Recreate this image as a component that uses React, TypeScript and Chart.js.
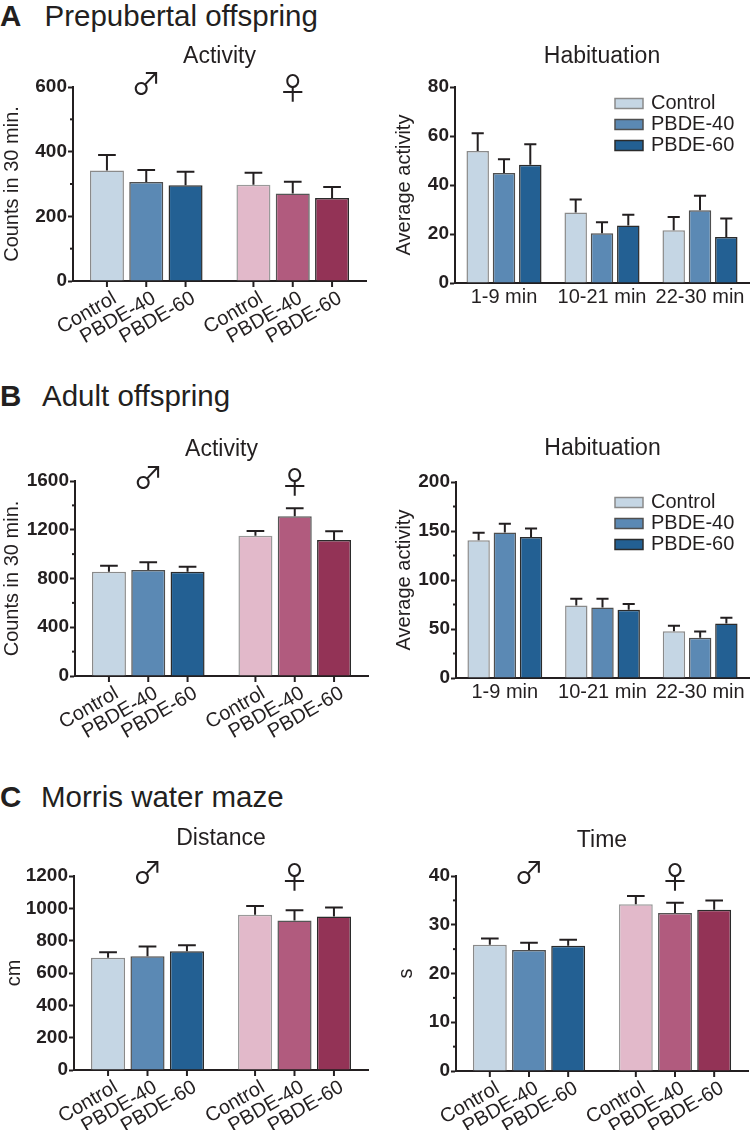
import React, { useEffect, useRef } from 'react';
import { Chart, registerables } from 'chart.js';

Chart.register(...registerables);

const FONT = '"Liberation Sans", Arial, Helvetica, sans-serif';
const SYMBOL_FONT = '"Noto Sans CJK JP", "DejaVu Sans", sans-serif';
const INK = '#231f20';

Chart.defaults.font.family = FONT;
Chart.defaults.color = INK;

// ---------- categories & labels ----------
const sexLabels = ['♂', '♀'];
const treatmentLabels = ['Control', 'PBDE-40', 'PBDE-60'];
const periodLabels = ['1-9 min', '10-21 min', '22-30 min'];

// ---------- A: prepubertal offspring ----------
const prepActivityControl = [342, 298];
const prepActivityPbde40 = [306, 271];
const prepActivityPbde60 = [296, 257];
const prepActivityControlSem = [48, 37];
const prepActivityPbde40Sem = [37, 36];
const prepActivityPbde60Sem = [42, 34];
const prepActivityTicks = [0, 200, 400, 600];

const prepHabControl = [53.9, 28.8, 21.5];
const prepHabPbde40 = [44.9, 20.3, 29.7];
const prepHabPbde60 = [48.3, 23.5, 18.8];
const prepHabControlSem = [7.2, 5.3, 5.4];
const prepHabPbde40Sem = [5.6, 4.5, 5.9];
const prepHabPbde60Sem = [8.3, 4.4, 7.5];
const prepHabTicks = [0, 20, 40, 60, 80];

// ---------- B: adult offspring ----------
const adultActivityControl = [856, 1151];
const adultActivityPbde40 = [870, 1310];
const adultActivityPbde60 = [856, 1116];
const adultActivityControlSem = [49, 39];
const adultActivityPbde40Sem = [63, 66];
const adultActivityPbde60Sem = [41, 71];
const adultActivityTicks = [0, 400, 800, 1200, 1600];

const adultHabControl = [140.6, 74, 47.8];
const adultHabPbde40 = [148.5, 72, 41];
const adultHabPbde60 = [144, 69.6, 55.6];
const adultHabControlSem = [7.5, 6.9, 5.4];
const adultHabPbde40Sem = [8.8, 8.9, 6.4];
const adultHabPbde60Sem = [8.6, 5.8, 5.8];
const adultHabTicks = [0, 50, 100, 150, 200];

// ---------- C: Morris water maze ----------
const mwmDistanceControl = [694, 961];
const mwmDistancePbde40 = [704, 924];
const mwmDistancePbde60 = [735, 949];
const mwmDistanceControlSem = [35, 54];
const mwmDistancePbde40Sem = [60, 64];
const mwmDistancePbde60Sem = [37, 56];
const mwmDistanceTicks = [0, 200, 400, 600, 800, 1000, 1200];

const mwmTimeControl = [25.9, 34.2];
const mwmTimePbde40 = [24.8, 32.4];
const mwmTimePbde60 = [25.7, 33.1];
const mwmTimeControlSem = [1.3, 1.7];
const mwmTimePbde40Sem = [1.5, 2.1];
const mwmTimePbde60Sem = [1.2, 1.9];
const mwmTimeTicks = [0, 10, 20, 30, 40];

// ---------- colours ----------
const maleFill = ['#c5d6e4', '#5b89b4', '#236093'];
const femaleFill = ['#e2b9ca', '#b15b7e', '#933356'];
const maleEdge = ['#8a8a8a', '#4f4f4f', '#2b2b2b'];
const femaleEdge = ['#9a9a9a', '#555555', '#2b2b2b'];

type Geom = {
  left: number; top: number; width: number; height: number;
  padRight: number; padTop: number; yWidth: number; xHeight: number;
  yTitlePad: number; titleY: number; legendTop?: number;
};

type PanelSpec = {
  id: string;
  kind: 'sex' | 'period';
  title: string;
  yTitle: string;
  yTicks: number[];
  minor: boolean;
  values: number[][];
  sems: number[][];
  geom: Geom;
};

const panels: PanelSpec[] = [
  {
    id: 'a1', kind: 'sex', title: 'Activity', yTitle: 'Counts in 30 min.',
    yTicks: prepActivityTicks, minor: true,
    values: [prepActivityControl, prepActivityPbde40, prepActivityPbde60],
    sems: [prepActivityControlSem, prepActivityPbde40Sem, prepActivityPbde60Sem],
    geom: { left: 0, top: 40, width: 375, height: 340, padRight: 9, padTop: 47, yWidth: 73, xHeight: 99, yTitlePad: 0, titleY: 17 },
  },
  {
    id: 'a2', kind: 'period', title: 'Habituation', yTitle: 'Average activity',
    yTicks: prepHabTicks, minor: false,
    values: [prepHabControl, prepHabPbde40, prepHabPbde60],
    sems: [prepHabControlSem, prepHabPbde40Sem, prepHabPbde60Sem],
    geom: { left: 375, top: 40, width: 375, height: 340, padRight: 1, padTop: 47, yWidth: 80, xHeight: 97, yTitlePad: 17, titleY: 17, legendTop: 16.5 },
  },
  {
    id: 'b1', kind: 'sex', title: 'Activity', yTitle: 'Counts in 30 min.',
    yTicks: adultActivityTicks, minor: true,
    values: [adultActivityControl, adultActivityPbde40, adultActivityPbde60],
    sems: [adultActivityControlSem, adultActivityPbde40Sem, adultActivityPbde60Sem],
    geom: { left: 0, top: 420, width: 375, height: 340, padRight: 7, padTop: 61, yWidth: 75, xHeight: 84, yTitlePad: 0, titleY: 30 },
  },
  {
    id: 'b2', kind: 'period', title: 'Habituation', yTitle: 'Average activity',
    yTicks: adultHabTicks, minor: true,
    values: [adultHabControl, adultHabPbde40, adultHabPbde60],
    sems: [adultHabControlSem, adultHabPbde40Sem, adultHabPbde60Sem],
    geom: { left: 375, top: 420, width: 375, height: 340, padRight: 1, padTop: 62, yWidth: 81, xHeight: 82, yTitlePad: 17, titleY: 29, legendTop: 20.5 },
  },
  {
    id: 'c1', kind: 'sex', title: 'Distance', yTitle: 'cm',
    yTicks: mwmDistanceTicks, minor: false,
    values: [mwmDistanceControl, mwmDistancePbde40, mwmDistancePbde60],
    sems: [mwmDistanceControlSem, mwmDistancePbde40Sem, mwmDistancePbde60Sem],
    geom: { left: 0, top: 800, width: 375, height: 330, padRight: 7, padTop: 76, yWidth: 74, xHeight: 60, yTitlePad: 2, titleY: 39 },
  },
  {
    id: 'c2', kind: 'sex', title: 'Time', yTitle: 's',
    yTicks: mwmTimeTicks, minor: true,
    values: [mwmTimeControl, mwmTimePbde40, mwmTimePbde60],
    sems: [mwmTimeControlSem, mwmTimePbde40Sem, mwmTimePbde60Sem],
    geom: { left: 375, top: 800, width: 375, height: 330, padRight: 2, padTop: 76, yWidth: 81, xHeight: 59, yTitlePad: 19, titleY: 41 },
  },
];

const decorPlugin = {
  id: 'decor',
  afterDatasetsDraw(chart: any, _args: any, o: any) {
    const ctx = chart.ctx;
    const yScale = chart.scales.y;
    ctx.save();
    ctx.strokeStyle = INK;
    ctx.lineWidth = 2;
    chart.data.datasets.forEach((ds: any, i: number) => {
      const meta = chart.getDatasetMeta(i);
      meta.data.forEach((el: any, j: number) => {
        const x = el.x;
        const half = (el.width * o.capRatio) / 2;
        const yErr = yScale.getPixelForValue(ds.data[j] + ds.sem[j]);
        ctx.beginPath();
        ctx.moveTo(x, el.y);
        ctx.lineTo(x, yErr);
        ctx.moveTo(x - half, yErr);
        ctx.lineTo(x + half, yErr);
        ctx.stroke();
      });
    });
    ctx.restore();
  },
  afterDraw(chart: any, _args: any, o: any) {
    const ctx = chart.ctx;
    const ca = chart.chartArea;
    const xScale = chart.scales.x;
    const yScale = chart.scales.y;
    ctx.save();
    ctx.fillStyle = INK;
    ctx.strokeStyle = INK;
    ctx.lineWidth = 2;

    // chart title
    ctx.font = `23px ${FONT}`;
    ctx.textAlign = 'center';
    ctx.textBaseline = 'middle';
    ctx.fillText(o.title, (ca.left + ca.right) / 2, o.titleY);

    // minor y ticks (half-way between labelled ticks)
    if (o.minor) {
      const t: number[] = o.yTicks;
      for (let k = 0; k < t.length - 1; k++) {
        const y = yScale.getPixelForValue((t[k] + t[k + 1]) / 2);
        ctx.beginPath();
        ctx.moveTo(ca.left - 3, y);
        ctx.lineTo(ca.left, y);
        ctx.stroke();
      }
    }

    if (o.kind === 'sex') {
      // sex symbols over each group
      ctx.font = `30px ${SYMBOL_FONT}`;
      ctx.textAlign = 'center';
      ctx.textBaseline = 'middle';
      chart.data.labels.forEach((lab: string, j: number) => {
        ctx.fillText(lab, xScale.getPixelForValue(j), ca.top + (j === 0 ? -4 : 1));
      });
      // tick marks and rotated treatment labels under every bar
      ctx.font = `20px ${FONT}`;
      ctx.textAlign = 'right';
      ctx.textBaseline = 'middle';
      chart.data.datasets.forEach((ds: any, i: number) => {
        chart.getDatasetMeta(i).data.forEach((el: any) => {
          const x = el.x;
          ctx.beginPath();
          ctx.moveTo(x, ca.bottom);
          ctx.lineTo(x, ca.bottom + 6);
          ctx.stroke();
          ctx.save();
          ctx.translate(x + 8, ca.bottom + 16);
          ctx.rotate(-Math.PI / 6);
          ctx.fillText(ds.label, 0, 0);
          ctx.restore();
        });
      });
    } else {
      // legend inside the plot, top right
      ctx.font = `20px ${FONT}`;
      ctx.textAlign = 'left';
      ctx.textBaseline = 'middle';
      const bx = ca.right - 134;
      chart.data.datasets.forEach((ds: any, i: number) => {
        const cy = ca.top + o.legendTop + i * 21;
        ctx.fillStyle = ds.backgroundColor[0];
        ctx.fillRect(bx, cy - 5, 28, 10);
        ctx.lineWidth = 1.5;
        ctx.strokeStyle = ds.borderColor[0];
        ctx.strokeRect(bx, cy - 5, 28, 10);
        ctx.fillStyle = INK;
        ctx.fillText(ds.label, bx + 36, cy);
      });
    }
    ctx.restore();
  },
};

function buildConfig(p: PanelSpec): any {
  const isSex = p.kind === 'sex';
  const categories = isSex ? sexLabels : periodLabels;
  const g = p.geom;
  const datasets = treatmentLabels.map((label, i) => ({
    label,
    data: p.values[i],
    sem: p.sems[i],
    backgroundColor: categories.map((_, j) => (isSex && j === 1 ? femaleFill[i] : maleFill[i])),
    borderColor: categories.map((_, j) => (isSex && j === 1 ? femaleEdge[i] : maleEdge[i])),
    borderWidth: 1.5,
    categoryPercentage: 0.805,
    barPercentage: isSex ? 0.865 : 0.855,
  }));
  const yMax = p.yTicks[p.yTicks.length - 1];
  return {
    type: 'bar',
    data: { labels: categories, datasets },
    plugins: [decorPlugin],
    options: {
      responsive: false,
      animation: false,
      events: [],
      layout: { padding: { left: 0, right: g.padRight, top: g.padTop, bottom: 0 } },
      plugins: {
        legend: { display: false },
        title: { display: false },
        tooltip: { enabled: false },
        decor: {
          kind: p.kind,
          title: p.title,
          titleY: g.titleY,
          legendTop: g.legendTop,
          minor: p.minor,
          yTicks: p.yTicks,
          capRatio: isSex ? 0.52 : 0.54,
        },
      },
      scales: {
        x: {
          type: 'category',
          offset: true,
          afterFit: (s: any) => { s.height = g.xHeight; },
          grid: { display: false, drawTicks: false },
          border: { display: true, color: INK, width: 2 },
          ticks: isSex
            ? { display: false }
            : { display: true, color: INK, font: { size: 20 }, padding: 2, maxRotation: 0, minRotation: 0, autoSkip: false },
        },
        y: {
          min: 0,
          max: yMax,
          afterFit: (s: any) => { s.width = g.yWidth; },
          afterBuildTicks: (s: any) => { s.ticks = p.yTicks.map((v) => ({ value: v })); },
          grid: { display: true, drawOnChartArea: false, drawTicks: true, tickLength: 5, tickWidth: 2, tickColor: INK },
          border: { display: true, color: INK, width: 2 },
          ticks: { color: INK, font: { size: 19, weight: 'bold' }, padding: 1, autoSkip: false, callback: (v: any) => String(v) },
          title: { display: true, text: p.yTitle, color: INK, font: { size: 20 }, padding: { top: g.yTitlePad, bottom: 0 } },
        },
      },
    },
  };
}

function Panel({ spec }: { spec: PanelSpec }) {
  const ref = useRef<HTMLCanvasElement>(null);
  useEffect(() => {
    if (!ref.current) return;
    const chart = new Chart(ref.current, buildConfig(spec));
    return () => chart.destroy();
  }, [spec]);
  const g = spec.geom;
  return (
    <div style={{ position: 'absolute', left: g.left, top: g.top, width: g.width, height: g.height }}>
      <canvas ref={ref} width={g.width} height={g.height} style={{ display: 'block', width: g.width, height: g.height }} />
    </div>
  );
}

function Header({ letter, text, top, textLeft }: { letter: string; text: string; top: number; textLeft: number }) {
  const base: React.CSSProperties = { position: 'absolute', top, fontFamily: FONT, fontSize: 29.5, lineHeight: '29px', color: INK, whiteSpace: 'nowrap' };
  return (
    <>
      <div style={{ ...base, left: 0, fontWeight: 'bold' }}>{letter}</div>
      <div style={{ ...base, left: textLeft }}>{text}</div>
    </>
  );
}

export default function App() {
  return (
    <div style={{ position: 'absolute', left: 0, top: 0, width: 750, height: 1130, background: '#ffffff', overflow: 'hidden' }}>
      <Header letter="A" text="Prepubertal offspring" top={1} textLeft={44.5} />
      <Header letter="B" text="Adult offspring" top={381} textLeft={42} />
      <Header letter="C" text="Morris water maze" top={782} textLeft={41} />
      {panels.map((p) => (
        <Panel key={p.id} spec={p} />
      ))}
    </div>
  );
}
